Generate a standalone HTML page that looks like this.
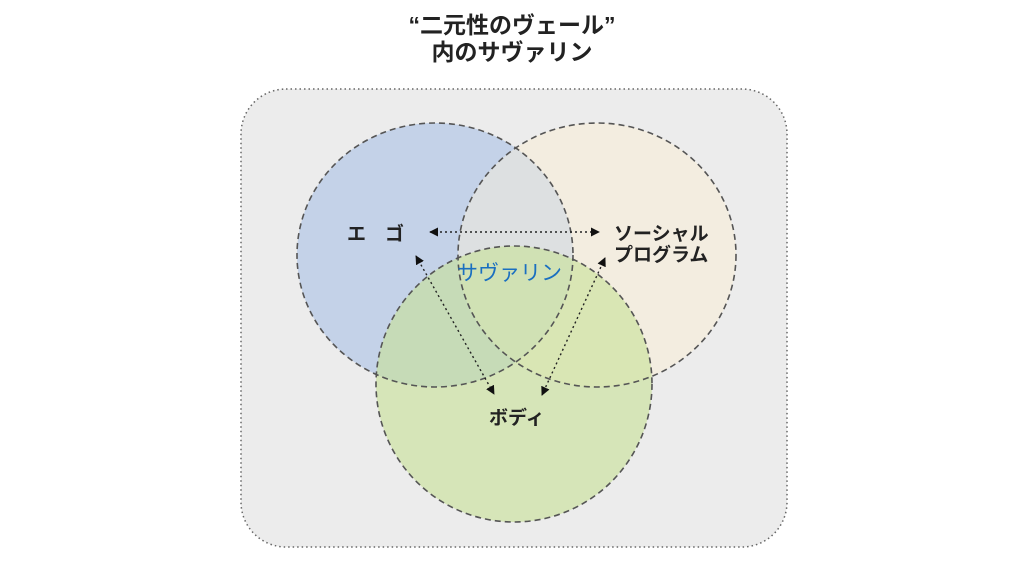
<!DOCTYPE html>
<html><head><meta charset="utf-8"><style>
html,body{margin:0;padding:0;background:#fff;}
svg text{font-family:"Liberation Sans","Noto Sans CJK JP",sans-serif;}
</style></head><body>
<svg width="1024" height="569" viewBox="0 0 1024 569" xmlns="http://www.w3.org/2000/svg">
<defs>
<marker id="a" viewBox="0 0 10 10" refX="9" refY="5" markerWidth="9" markerHeight="9" orient="auto-start-reverse" markerUnits="userSpaceOnUse"><path d="M0,0 L10,5 L0,10 z" fill="#111"/></marker>
</defs>
<text x="512" y="33" text-anchor="middle" font-size="23" font-weight="bold" fill="#222">“二元性のヴェール”</text>
<text x="512" y="60" text-anchor="middle" font-size="23" font-weight="bold" fill="#222">内のサヴァリン</text>
<rect x="241" y="89" width="546" height="458" rx="45" fill="#ececec" stroke="#666" stroke-width="1.5" stroke-dasharray="1.5 3"/>
<ellipse cx="435" cy="255" rx="138" ry="132" fill="rgba(180,200,230,0.6)"/>
<ellipse cx="597" cy="255" rx="139" ry="132" fill="rgba(245,238,220,0.75)"/>
<ellipse cx="435" cy="255" rx="138" ry="132" fill="rgba(180,200,230,0.25)"/>
<circle cx="514" cy="384" r="138" fill="rgba(200,225,150,0.6)"/>
<g fill="none" stroke="#555" stroke-width="1.6" stroke-dasharray="6 4">
<ellipse cx="435" cy="255" rx="138" ry="132"/>
<ellipse cx="597" cy="255" rx="139" ry="132"/>
<circle cx="514" cy="384" r="138"/>
</g>
<g stroke="#222" stroke-width="1.4" stroke-dasharray="2 3" marker-start="url(#a)" marker-end="url(#a)">
<line x1="430" y1="232" x2="599" y2="232"/>
<line x1="416" y1="256" x2="494" y2="394"/>
<line x1="605" y1="258" x2="542" y2="395"/>
</g>
<text x="347" y="240" font-size="19" font-weight="bold" fill="#222" letter-spacing="19">エゴ</text>
<text x="614" y="240" font-size="19" font-weight="bold" fill="#222">ソーシャル</text>
<text x="614" y="261" font-size="19" font-weight="bold" fill="#222">プログラム</text>
<text x="457" y="280" font-size="21" fill="#1a6fc0">サヴァリン</text>
<text x="489" y="424" font-size="19" font-weight="bold" fill="#222">ボディ</text>
</svg>
</body></html>
